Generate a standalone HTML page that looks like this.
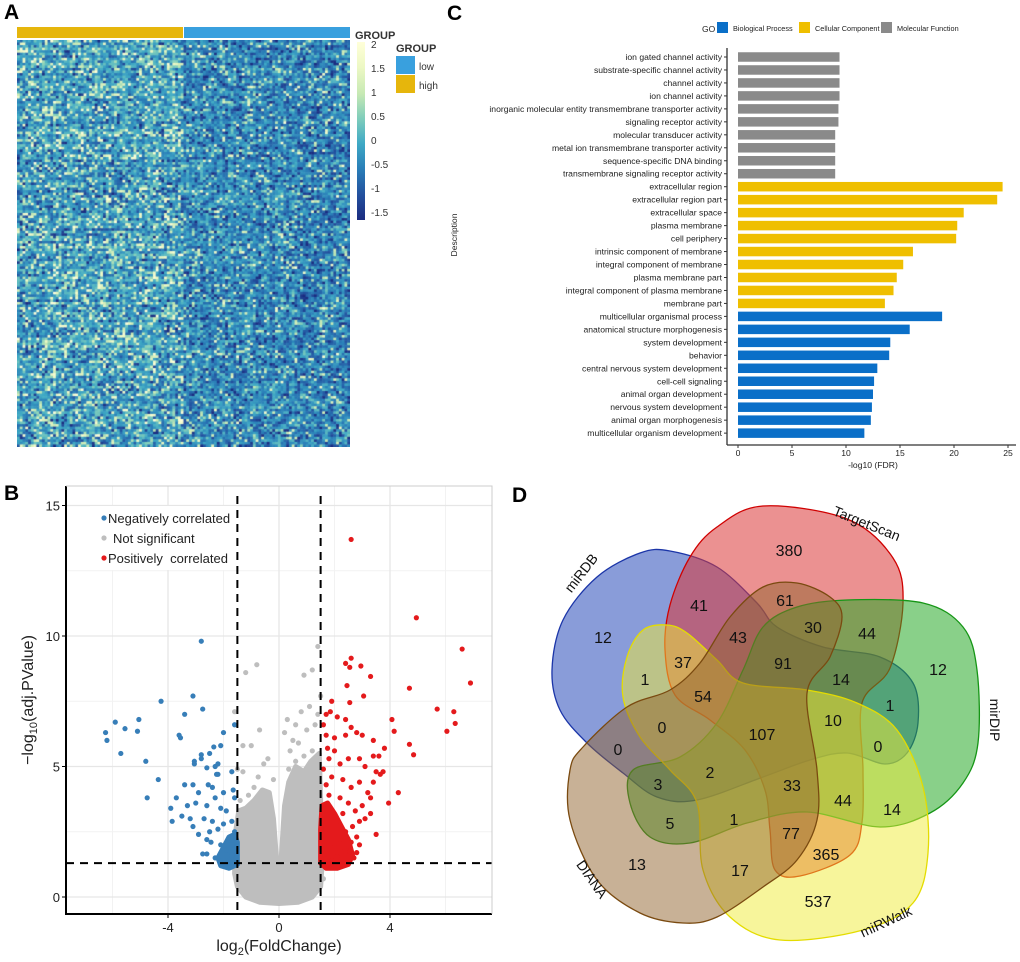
<!DOCTYPE html>
<html><head><meta charset="utf-8"><style>
body{margin:0;background:#fff;width:1020px;height:962px;overflow:hidden;position:relative;font-family:"Liberation Sans",sans-serif}
#hm{position:absolute;left:17px;top:40px}
#main{position:absolute;left:0;top:0}
</style></head><body>
<canvas id="hm" width="333" height="407"></canvas>
<svg id="main" width="1020" height="962" xmlns="http://www.w3.org/2000/svg" font-family="Liberation Sans, sans-serif">
<text x="4" y="19" font-size="21" font-weight="bold">A</text>
<text x="447" y="20" font-size="21" font-weight="bold">C</text>
<text x="4" y="500" font-size="21" font-weight="bold">B</text>
<text x="512" y="502" font-size="21" font-weight="bold">D</text>
<rect x="17" y="27" width="166" height="11" fill="#e6b60c"/>
<rect x="184" y="27" width="166" height="11" fill="#39a0de"/>
<text x="355" y="39" font-size="11" font-weight="bold" fill="#333">GROUP</text>
<defs><linearGradient id="cb" x1="0" y1="1" x2="0" y2="0">
<stop offset="0" stop-color="#1b2c80"/><stop offset="0.14" stop-color="#23509e"/><stop offset="0.29" stop-color="#2a7fb8"/><stop offset="0.43" stop-color="#3fa9c5"/><stop offset="0.57" stop-color="#7fcdbb"/><stop offset="0.71" stop-color="#c7e9b4"/><stop offset="0.86" stop-color="#edf8c4"/><stop offset="1" stop-color="#ffffd9"/></linearGradient></defs>
<rect x="357" y="42" width="8" height="178" fill="url(#cb)"/>
<g font-size="10" fill="#333">
<text x="371" y="48">2</text><text x="371" y="72">1.5</text><text x="371" y="96">1</text><text x="371" y="120">0.5</text><text x="371" y="144">0</text><text x="371" y="168">-0.5</text><text x="371" y="192">-1</text><text x="371" y="216">-1.5</text></g>
<text x="396" y="52" font-size="11" font-weight="bold" fill="#333">GROUP</text>
<rect x="396" y="56" width="19" height="18" fill="#39a0de"/>
<text x="419" y="70" font-size="10" fill="#333">low</text>
<rect x="396" y="75" width="19" height="18" fill="#e6b60c"/>
<text x="419" y="89" font-size="10" fill="#333">high</text>
<g id="panelC"></g>
<g id="panelB"></g>
<g id="panelD"></g>
</svg>
<script>
// ---------- Panel C data ----------
const goTerms=["ion gated channel activity","substrate-specific channel activity","channel activity","ion channel activity","inorganic molecular entity transmembrane transporter activity","signaling receptor activity","molecular transducer activity","metal ion transmembrane transporter activity","sequence-specific DNA binding","transmembrane signaling receptor activity","extracellular region","extracellular region part","extracellular space","plasma membrane","cell periphery","intrinsic component of membrane","integral component of membrane","plasma membrane part","integral component of plasma membrane","membrane part","multicellular organismal process","anatomical structure morphogenesis","system development","behavior","central nervous system development","cell-cell signaling","animal organ development","nervous system development","animal organ morphogenesis","multicellular organism development"];
const goValues=[9.4,9.4,9.4,9.4,9.3,9.3,9.0,9.0,9.0,9.0,24.5,24.0,20.9,20.3,20.2,16.2,15.3,14.7,14.4,13.6,18.9,15.9,14.1,14.0,12.9,12.6,12.5,12.4,12.3,11.7];
const goCategory=["MF","MF","MF","MF","MF","MF","MF","MF","MF","MF","CC","CC","CC","CC","CC","CC","CC","CC","CC","CC","BP","BP","BP","BP","BP","BP","BP","BP","BP","BP"];
const goTicks=[0,5,10,15,20,25];
// ---------- Panel B data ----------
const negPts=[[-2.8,9.8],[-4.25,7.5],[-3.1,7.7],[-2.75,7.2],[-3.4,7.0],[-5.9,6.7],[-5.05,6.8],[-6.25,6.3],[-5.55,6.45],[-5.1,6.35],[-6.2,6.0],[-5.7,5.5],[-4.8,5.2],[-3.6,6.2],[-3.55,6.1],[-2.0,6.3],[-1.6,6.6],[-2.35,5.75],[-2.1,5.8],[-2.8,5.45],[-3.05,5.2],[-2.5,5.5],[-2.2,5.1],[-2.3,5.0],[-2.6,4.95],[-1.7,4.8],[-2.25,4.7],[-4.35,4.5],[-4.75,3.8],[-3.9,3.4],[-3.85,2.9],[-3.5,3.1],[-3.4,4.3],[-3.1,4.3],[-3.05,5.1],[-2.8,5.3],[-2.2,4.7],[-2.4,4.2],[-3.1,2.7],[-2.75,1.65],[-2.6,1.65],[-2.9,4.0],[-3.0,3.6],[-2.6,3.5],[-2.3,3.8],[-2.1,3.4],[-1.9,3.3],[-2.7,3.0],[-2.4,2.9],[-2.9,2.4],[-2.5,2.5],[-2.2,2.6],[-2.0,2.8],[-1.8,2.2],[-1.7,2.9],[-3.3,3.5],[-3.7,3.8],[-3.2,3.0],[-2.55,4.3],[-2.0,4.0],[-1.6,3.8],[-1.65,4.1],[-2.1,2.0],[-1.9,1.8],[-2.3,1.5],[-1.7,1.6],[-2.0,1.4],[-1.8,1.4],[-2.45,2.1],[-2.6,2.2],[-1.6,2.5],[-1.7,2.0]];
const nsPts=[[-1.2,8.6],[-0.8,8.9],[1.4,9.6],[1.2,8.7],[0.9,8.5],[1.5,7.7],[-1.6,7.1],[-0.7,6.4],[-1.0,5.8],[-1.3,5.8],[0.3,6.8],[0.6,6.6],[1.0,6.4],[1.3,6.6],[0.2,6.3],[0.5,6.0],[-0.55,5.1],[-0.4,5.3],[-1.5,4.9],[-1.3,4.8],[0.8,7.1],[1.1,7.3],[1.4,7.0],[0.4,5.6],[0.7,5.9],[0.9,5.4],[-0.2,4.5],[-0.75,4.6],[1.5,1.0],[1.6,0.7],[0.35,4.9],[0.6,5.2],[1.2,5.6],[-1.4,3.7],[-1.1,3.9],[-0.9,4.2]];
const posPts=[[2.6,13.7],[4.95,10.7],[6.6,9.5],[6.9,8.2],[4.7,8.0],[5.7,7.2],[6.3,7.1],[6.35,6.65],[6.05,6.35],[4.7,5.85],[4.85,5.45],[4.07,6.8],[4.15,6.35],[2.6,9.15],[2.4,8.95],[2.55,8.8],[2.95,8.85],[3.3,8.45],[2.45,8.1],[3.05,7.7],[2.55,7.45],[1.9,7.5],[1.7,7.0],[1.85,7.1],[2.1,6.9],[2.4,6.8],[1.6,6.6],[2.6,6.5],[3.0,6.2],[2.4,6.2],[2.8,6.3],[1.7,6.2],[2.0,6.1],[3.4,6.0],[3.8,5.7],[3.6,5.4],[3.4,5.4],[2.9,5.3],[2.5,5.3],[2.2,5.1],[1.8,5.3],[2.0,5.6],[3.1,5.0],[3.5,4.8],[3.75,4.8],[4.3,4.0],[3.95,3.6],[3.5,2.4],[3.65,4.7],[3.4,4.4],[2.55,1.75],[2.4,1.6],[2.1,1.55],[2.9,4.4],[2.6,4.2],[3.2,4.0],[2.3,4.5],[1.9,4.6],[1.7,4.3],[3.0,3.5],[2.75,3.3],[2.5,3.6],[2.2,3.8],[1.8,3.9],[3.3,3.8],[3.3,3.2],[2.9,2.9],[2.65,2.7],[2.4,2.5],[2.8,2.3],[3.1,3.0],[2.9,2.0],[2.6,2.1],[2.2,2.2],[1.9,3.1],[2.1,2.9],[1.7,2.6],[2.3,3.2],[2.0,1.9],[1.8,2.0],[1.6,1.6],[1.7,1.4],[1.9,1.4],[2.2,1.8],[1.6,3.4],[1.6,4.9],[1.75,5.7],[2.7,1.5],[2.8,1.7]];
const nsDense=[[-1.6,0.9],[-1.55,2.6],[-1.45,3.3],[-1.2,3.4],[-0.9,3.7],[-0.6,4.1],[-0.35,4.0],[-0.2,3.0],[-0.1,1.6],[-0.03,0.8],[0.03,0.8],[0.1,1.8],[0.2,3.5],[0.35,4.4],[0.6,5.0],[0.9,4.8],[1.15,5.2],[1.45,5.5],[1.52,3.0],[1.55,1.2],[1.5,0.4],[1.2,0.0],[0.7,-0.2],[0,-0.25],[-0.7,-0.2],[-1.2,0.0],[-1.5,0.4]];
const posDense=[[1.5,1.3],[1.5,2.6],[1.55,3.5],[1.75,3.6],[2.0,3.2],[2.25,2.7],[2.5,2.2],[2.65,1.6],[2.5,1.25],[2.1,1.1],[1.7,1.1]];
const negDense=[[-1.5,1.25],[-1.5,2.1],[-1.6,2.4],[-1.8,2.3],[-2.0,1.9],[-2.2,1.5],[-2.1,1.2],[-1.8,1.1]];
const xTicks=[-4,0,4], yTicks=[0,5,10,15];
// ---------- Panel D data ----------
const vennCounts=[["380",789,550],["41",699,605],["61",785,600],["12",603,637],["43",738,637],["30",813,627],["44",867,633],["91",783,663],["37",683,662],["1",645,679],["54",703,696],["14",841,679],["12",938,669],["1",890,705],["10",833,720],["107",762,734],["0",662,727],["0",618,749],["0",878,746],["2",710,772],["3",658,784],["33",792,785],["44",843,800],["14",892,809],["5",670,823],["1",734,819],["77",791,833],["365",826,854],["13",637,864],["17",740,870],["537",818,901]];

const NS='http://www.w3.org/2000/svg';
function mk(tag,attrs,parent,text){const e=document.createElementNS(NS,tag);for(const k in attrs)e.setAttribute(k,attrs[k]);if(text!==undefined)e.textContent=text;parent.appendChild(e);return e;}

// ---------- Heatmap texture ----------
(function(){
const c=document.getElementById('hm').getContext('2d');
const cols=120,rows=160,cw=333/cols,rh=407/rows;
let s=12345;function r(){s=(s*1103515245+12345)&0x7fffffff;return s/0x7fffffff;}
const stops=[[-1.5,[27,44,128]],[-1,[35,80,158]],[-0.5,[42,127,184]],[0,[63,169,197]],[0.5,[127,205,187]],[1,[199,233,180]],[1.5,[237,248,196]],[2,[255,255,217]]];
function col(v){v=Math.max(-1.5,Math.min(2,v));for(let i=0;i<stops.length-1;i++){if(v<=stops[i+1][0]){const t=(v-stops[i][0])/0.5,a=stops[i][1],b=stops[i+1][1];return `rgb(${a.map((x,j)=>Math.round(x+(b[j]-x)*t)).join(',')})`;}}return 'rgb(255,255,217)';}
const rowE=[];for(let i=0;i<rows;i++)rowE.push((r()-0.5)*0.5);
const colE=[];for(let j=0;j<cols;j++)colE.push((r()-0.5)*0.3+(j<60?0.15:-0.08));
for(let i=0;i<rows;i++)for(let j=0;j<cols;j++){const u=r();let n=(r()+r()-1)*0.9;const py=j<60?0.17:0.1;if(u<py)n+=1.4;else if(u<py+0.08)n-=0.9;let v=-0.3+rowE[i]*(j<60?1:-0.6)+colE[j]+n;c.fillStyle=col(v);c.fillRect(j*cw,i*rh,cw+0.5,rh+0.5);}
})();

// ---------- Panel C ----------
(function(){
const g=document.getElementById('panelC');
const x0=738,pxu=10.8,yTop=57,step=12.97,bh=9.5;
const X=v=>x0+v*pxu, Y=i=>yTop+i*step;
const colors={BP:'#0a6fc8',CC:'#efbf00',MF:'#8a8a8a'};
mk('line',{x1:727,y1:48,x2:727,y2:445,stroke:'#333','stroke-width':1.3},g);
mk('line',{x1:727,y1:445,x2:1016,y2:445,stroke:'#333','stroke-width':1.3},g);
goTerms.forEach((t,i)=>{
 const b=mk('rect',{x:X(0),y:Y(i)-bh/2,width:X(goValues[i])-X(0),height:bh,fill:colors[goCategory[i]]},g);
 
 
 const l=mk('text',{x:722,y:Y(i)+3,'font-size':8.6,'text-anchor':'end',fill:'#222'},g,t);
 
 
 mk('line',{x1:724,y1:Y(i),x2:727,y2:Y(i),stroke:'#333'},g);
});
goTicks.forEach(t=>{mk('line',{x1:X(t),y1:445,x2:X(t),y2:448,stroke:'#333'},g);
 const tl=mk('text',{x:X(t),y:456,'font-size':8.6,'text-anchor':'middle',fill:'#222'},g,String(t));
 
 });
const xt=mk('text',{x:873,y:468,'font-size':8.6,'text-anchor':'middle',fill:'#222'},g,'-log10 (FDR)');


const yt=mk('text',{x:0,y:0,'font-size':8.6,'text-anchor':'middle',fill:'#222',transform:'translate(457,235) rotate(-90)'},g,'Description');


const lg=mk('g',{},g);


mk('text',{x:702,y:32,'font-size':8.5,fill:'#222'},lg,'GO');
[['#0a6fc8','Biological Process',717],['#efbf00','Cellular Component',799],['#8a8a8a','Molecular Function',881]].forEach(([c,t,x])=>{
 mk('rect',{x:x,y:22,width:11,height:11,fill:c},lg);mk('text',{x:x+16,y:31,'font-size':7.3,fill:'#222'},lg,t);});
})();

// ---------- Panel B ----------
(function(){
const g=document.getElementById('panelB');
const X=v=>279+v*27.75, Y=v=>897-v*26.1;
const L=66,R=492,T=486,B=914;
mk('rect',{x:L,y:T,width:R-L,height:B-T,fill:'#fff'},g);
[-6,-2,2,6].forEach(v=>mk('line',{x1:X(v),y1:T,x2:X(v),y2:B,stroke:'#f2f2f2','stroke-width':1},g));
[2.5,7.5,12.5].forEach(v=>mk('line',{x1:L,y1:Y(v),x2:R,y2:Y(v),stroke:'#f2f2f2','stroke-width':1},g));
[-4,0,4].forEach(v=>mk('line',{x1:X(v),y1:T,x2:X(v),y2:B,stroke:'#e6e6e6','stroke-width':1.3},g));
yTicks.forEach(v=>mk('line',{x1:L,y1:Y(v),x2:R,y2:Y(v),stroke:'#e6e6e6','stroke-width':1.3},g));
const poly=(pts,fill)=>mk('path',{d:'M'+pts.map(p=>X(p[0])+','+Y(p[1])).join('L')+'Z',fill:fill,stroke:fill,'stroke-width':5,'stroke-linejoin':'round'},g);
const d1=poly(nsDense,'#bebebe');
const d2=poly(posDense,'#e41a1c');
const d3=poly(negDense,'#377eb8');
const pts=(arr,c,name)=>arr.forEach(p=>{const e=mk('circle',{cx:X(p[0]),cy:Y(p[1]),r:2.6,fill:c},g);
 
 });
pts(nsPts,'#bebebe','point-not-significant');pts(negPts,'#377eb8','point-negative');pts(posPts,'#e41a1c','point-positive');
[-1.5,1.5].forEach(v=>mk('line',{x1:X(v),y1:T+10,x2:X(v),y2:B,stroke:'#000','stroke-width':2,'stroke-dasharray':'8,6'},g));
mk('line',{x1:L,y1:Y(1.3),x2:R,y2:Y(1.3),stroke:'#000','stroke-width':2,'stroke-dasharray':'8,6'},g);
mk('path',{d:`M${L},${T}V${B}H${R}`,fill:'none',stroke:'#000','stroke-width':2},g);
mk('path',{d:`M${L},${T}H${R}V${B}`,fill:'none',stroke:'#ccc','stroke-width':1},g);
yTicks.forEach(v=>{mk('line',{x1:L-4,y1:Y(v),x2:L,y2:Y(v),stroke:'#000'},g);
 const t=mk('text',{x:L-6,y:Y(v)+5,'font-size':13,'text-anchor':'end',fill:'#222'},g,String(v));
 
 });
xTicks.forEach(v=>{mk('line',{x1:X(v),y1:B,x2:X(v),y2:B+4,stroke:'#000'},g);
 const t=mk('text',{x:X(v),y:B+18,'font-size':13,'text-anchor':'middle',fill:'#222'},g,String(v));
 
 });
const xt=mk('text',{x:279,y:951,'font-size':16,'text-anchor':'middle',fill:'#222'},g);
xt.innerHTML='log<tspan font-size="11" dy="4">2</tspan><tspan dy="-4">(FoldChange)</tspan>';


const yt=mk('text',{x:0,y:0,'font-size':16,'text-anchor':'middle',fill:'#222',transform:'translate(33,700) rotate(-90)'},g);
yt.innerHTML='−log<tspan font-size="11" dy="4">10</tspan><tspan dy="-4">(adj.PValue)</tspan>';


const lg=mk('g',{},g);


mk('rect',{x:90,y:506,width:146,height:64,fill:'#fff'},lg);
[['#377eb8','Negatively correlated',523],['#bebebe','Not significant',543],['#e41a1c','Positively\u00a0\u00a0correlated',563]].forEach(([c,t,y],i)=>{
 mk('circle',{cx:104,cy:y-5,r:2.6,fill:c},lg);mk('text',{x:i==1?113:108,y:y,'font-size':13,fill:'#222'},lg,t);});
})();

// ---------- Panel D ----------
(function(){
const g=document.getElementById('panelD');
function smooth(p){let d=`M${p[0][0]},${p[0][1]}`;const n=p.length;
 for(let i=0;i<n;i++){const p0=p[(i-1+n)%n],p1=p[i],p2=p[(i+1)%n],p3=p[(i+2)%n];
  d+=`C${p1[0]+(p2[0]-p0[0])/6},${p1[1]+(p2[1]-p0[1])/6} ${p2[0]-(p3[0]-p1[0])/6},${p2[1]-(p3[1]-p1[1])/6} ${p2[0]},${p2[1]}`;}
 return d+'Z';}
const shapes=[
 ['set-mirdb','rgba(40,75,185,0.55)','#1b35a8',[[640,553],[670,551],[717,567],[757,603],[777,627],[823,647],[880,657],[913,683],[918,723],[907,753],[885,764],[847,753],[810,760],[763,777],[697,800],[657,797],[623,773],[587,743],[560,710],[552,670],[563,620],[597,577]]],
 ['set-targetscan','rgba(218,55,55,0.55)','#d00000',[[717,527],[763,506],[847,519],[893,558],[903,603],[890,668],[862,703],[863,770],[862,822],[850,855],[800,876],[775,870],[770,830],[765,790],[745,750],[710,720],[675,695],[665,650],[670,605],[690,557]]],
 ['set-mirdip','rgba(40,170,40,0.55)','#169616',[[763,627],[797,607],[847,600],[923,603],[963,627],[977,670],[978,743],[963,783],[930,813],[880,827],[807,812],[747,823],[690,843],[650,837],[630,803],[633,770],[680,757],[717,723],[743,670]]],
 ['set-mirwalk','rgba(240,235,55,0.5)','#e4dc00',[[667,625],[687,633],[717,660],[743,683],[807,690],[857,703],[897,730],[923,787],[928,853],[913,903],[863,930],[780,940],[730,917],[703,870],[697,803],[670,770],[640,737],[623,697],[627,657],[643,630]]],
 ['set-diana','rgba(145,100,45,0.5)','#7a4a10',[[583,747],[627,707],[670,690],[700,663],[730,617],[763,587],[797,583],[830,597],[842,617],[830,657],[807,693],[817,770],[817,820],[797,860],[763,887],[717,917],[683,923],[640,913],[597,880],[570,820],[570,770]]]];
shapes.forEach(([n,f,s,p])=>{const e=mk('path',{d:smooth(p),fill:f,stroke:s,'stroke-width':1.3},g);
 
 });
vennCounts.forEach(([t,x,y])=>{const e=mk('text',{x:x,y:y+6,'font-size':16,'text-anchor':'middle',fill:'#111'},g,t);
 
 });
[['TargetScan',865,528,22],['miRDB',585,576,-52],['mirDIP',990,720,90],['DIANA',588,882,55],['miRWalk',888,926,-25]].forEach(([t,x,y,a])=>{
 const e=mk('text',{x:0,y:0,'font-size':14,'text-anchor':'middle',fill:'#111',transform:`translate(${x},${y}) rotate(${a})`},g,t);
 
 });
})();
</script>
</body></html>
